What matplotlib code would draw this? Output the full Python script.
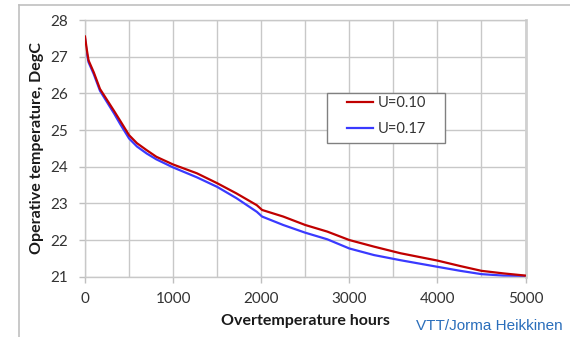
import matplotlib
matplotlib.use("Agg")
import matplotlib.pyplot as plt
from matplotlib.lines import Line2D
from matplotlib.patches import Rectangle

plt.rcParams['font.family'] = ['Lato', 'DejaVu Sans']

# data
hours = [0, 20, 40, 100, 170, 250, 330, 400, 500, 590, 700, 810, 1000, 1270,
         1500, 1720, 1950, 2010, 2250, 2500, 2750, 3000, 3280, 3580, 4000,
         4260, 4500, 4750, 5000]
temp_u010 = [27.55, 27.2, 26.9, 26.57, 26.12, 25.82, 25.52, 25.25, 24.86, 24.64,
             24.45, 24.27, 24.06, 23.82, 23.55, 23.27, 22.95, 22.82, 22.64,
             22.41, 22.23, 22.0, 21.82, 21.64, 21.44, 21.29, 21.16, 21.09, 21.03]
temp_u017 = [27.5, 27.1, 26.85, 26.52, 26.07, 25.76, 25.45, 25.16, 24.77, 24.55,
             24.36, 24.2, 23.98, 23.71, 23.45, 23.14, 22.77, 22.64, 22.41,
             22.2, 22.02, 21.77, 21.59, 21.45, 21.27, 21.16, 21.07, 21.03, 21.02]
labels = ['U=0.10', 'U=0.17']
x_ticks = [0, 1000, 2000, 3000, 4000, 5000]
y_ticks = [21, 22, 23, 24, 25, 26, 27, 28]

fig = plt.figure(figsize=(5.7, 3.37), dpi=100)
ax = fig.add_axes([85 / 570, 1 - 276.7 / 337, 440.5 / 570, 256.7 / 337])

grid_c = '#c8c8c8'
for v in range(0, 5001, 500):
    ax.axvline(v, color=grid_c, lw=1.0, zorder=1)
for v in y_ticks:
    ax.axhline(v, color=grid_c, lw=1.0, zorder=1)

ax.plot(hours, temp_u010, color='#c00000', lw=1.6, label=labels[0], zorder=3)
ax.plot(hours, temp_u017, color='#3a3aff', lw=1.6, label=labels[1], zorder=2)

ax.set_xlim(0, 5000)
ax.set_ylim(21, 28)
ax.set_xticks(x_ticks)
ax.set_yticks(y_ticks)
ax.tick_params(direction='out', length=4, width=1, color='#bfbfbf',
               labelsize=11, labelcolor='#333333')
ax.tick_params(axis='y', pad=8)
ax.tick_params(axis='x', pad=7)

for side in ['left', 'bottom', 'top']:
    ax.spines[side].set_color(grid_c)
    ax.spines[side].set_linewidth(1.0)
ax.spines['right'].set_color('#d0d0d0')
ax.spines['right'].set_linewidth(2.0)

ax.set_ylabel('Operative temperature, DegC', fontsize=11.5, fontweight='bold',
              color='#1a1a1a', labelpad=5)
ax.set_xlabel('Overtemperature hours', fontsize=11.5, fontweight='bold',
              color='#1a1a1a', labelpad=6)

# legend: frame drawn separately, entries placed inside it
ax.add_patch(Rectangle((0.549, 0.52), 0.268, 0.197, transform=ax.transAxes,
                       facecolor='white', edgecolor='#808080', lw=1.0, zorder=5))
leg = ax.legend(loc='upper left', bbox_to_anchor=(0.595, 0.705), borderaxespad=0,
                borderpad=0, frameon=False, fontsize=10.5, handlelength=1.8,
                handletextpad=0.3, labelspacing=0.85)
leg.set_zorder(6)
for t in leg.get_texts():
    t.set_color('#333333')

# outer chart frame
fig.add_artist(Line2D([19 / 570, 1], [1 - 5 / 337, 1 - 5 / 337],
                      color='#c0c0c0', lw=1.2, transform=fig.transFigure))
fig.add_artist(Line2D([19 / 570, 19 / 570], [0, 1 - 5 / 337],
                      color='#c0c0c0', lw=1.2, transform=fig.transFigure))

fig.text(416 / 570, 1 - 326 / 337, 'VTT/Jorma Heikkinen', color='#2a6ebb',
         fontsize=11, family=['Liberation Sans', 'DejaVu Sans'],
         ha='left', va='center')

fig.savefig('out.png', dpi=100)
